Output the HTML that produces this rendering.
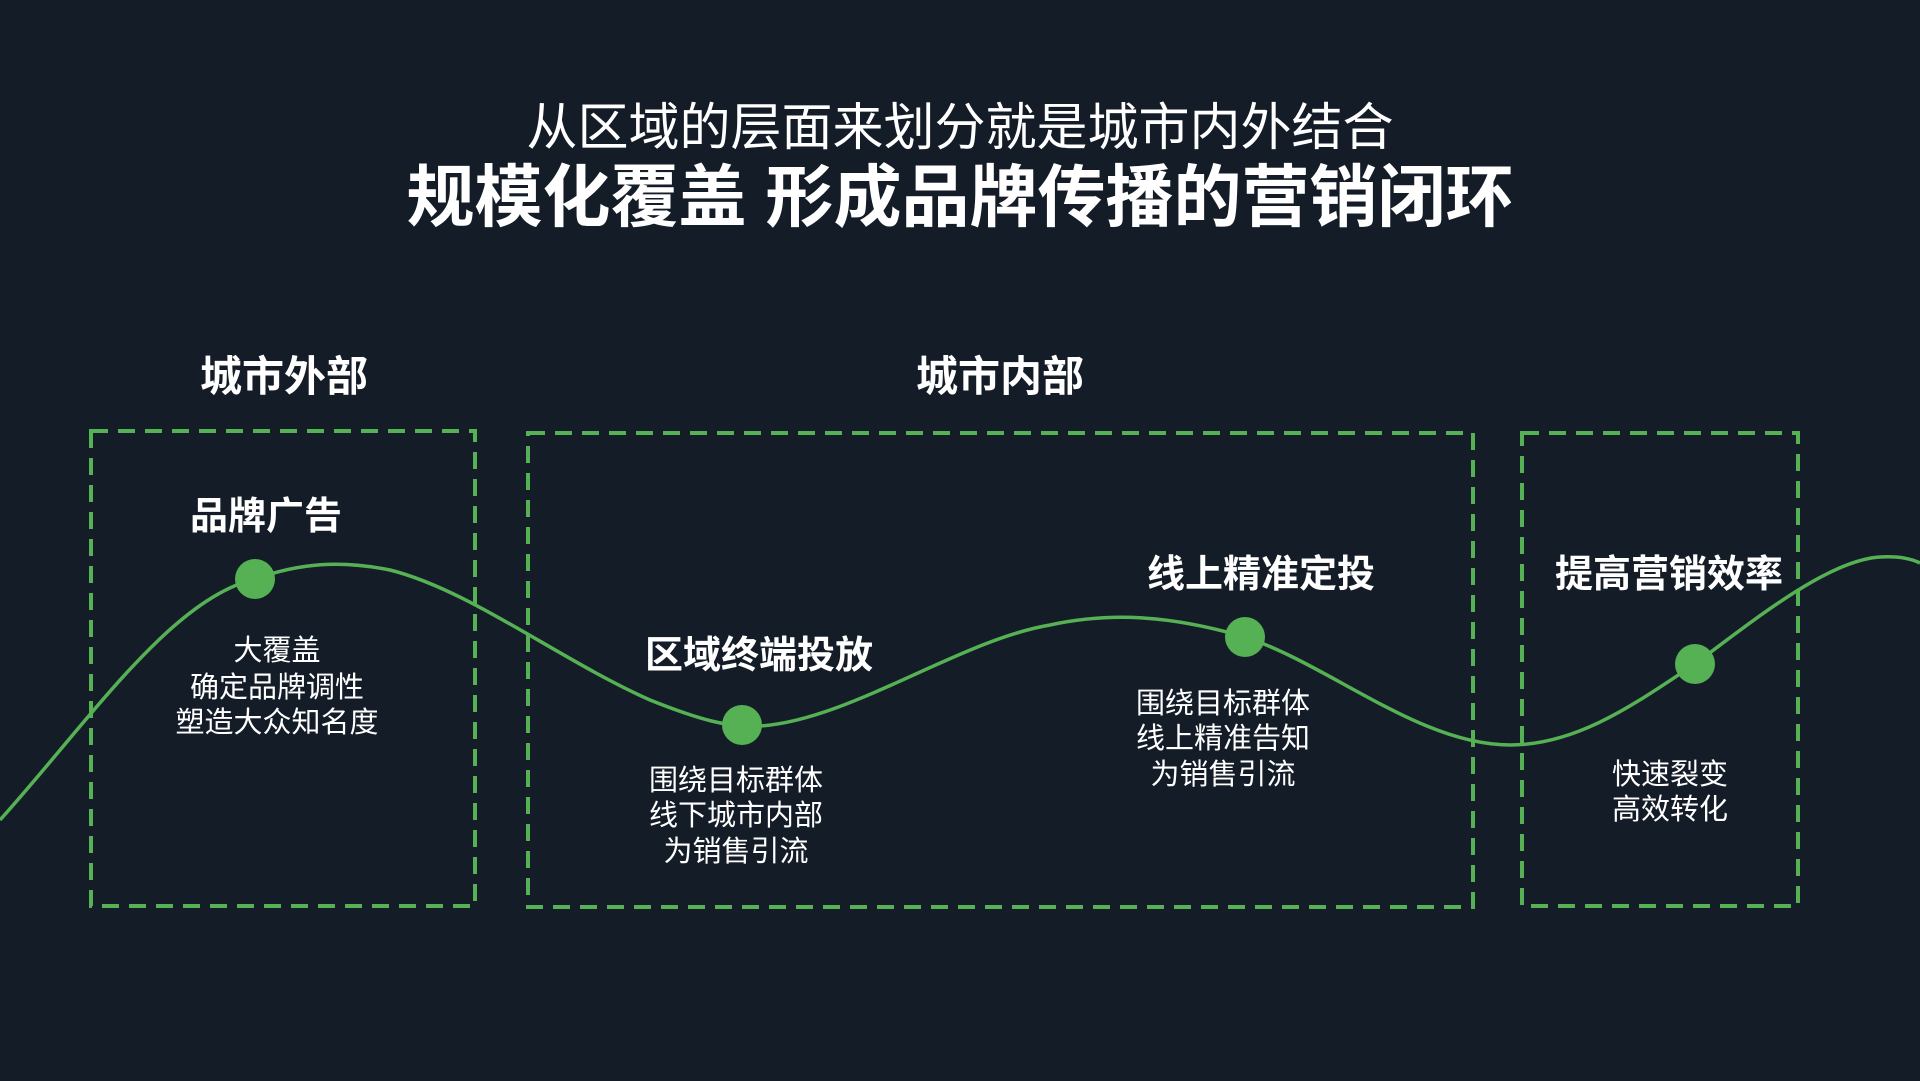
<!DOCTYPE html>
<html><head><meta charset="utf-8"><style>
html,body{margin:0;padding:0;background:#141c28;}
svg{display:block}
text{font-family:"Liberation Sans","Noto Sans CJK SC",sans-serif;fill:#fff;text-anchor:middle}
.b{font-weight:bold}
</style></head><body>
<svg width="1920" height="1081" viewBox="0 0 1920 1081" xmlns="http://www.w3.org/2000/svg">
<rect width="1920" height="1081" fill="#141c28"/>
<text x="960" y="145" font-size="51">从区域的层面来划分就是城市内外结合</text>
<text x="960" y="221" font-size="68" class="b">规模化覆盖 形成品牌传播的营销闭环</text>
<text x="284" y="391" font-size="42" class="b">城市外部</text>
<text x="1000" y="391" font-size="42" class="b">城市内部</text>
<g fill="none" stroke="#55b154" stroke-width="4" stroke-dasharray="17,10">
<rect x="91" y="431" width="384" height="475"/>
<rect x="528" y="433" width="945" height="474"/>
<rect x="1522" y="433" width="276" height="473"/>
</g>
<path d="M0,820 C90,720 170,600 255,579 C300,563 340,560 390,570 C470,590 560,660 650,700 C700,720 730,728 760,726 C850,720 960,640 1050,625 C1110,612 1170,615 1245,637 C1330,665 1420,745 1510,745 C1580,745 1640,700 1695,664 C1760,615 1830,560 1880,557 C1900,556 1912,559 1920,563" fill="none" stroke="#55b154" stroke-width="3.5"/>
<g fill="#55b154">
<circle cx="255" cy="579" r="20"/>
<circle cx="742" cy="725" r="20"/>
<circle cx="1245" cy="637" r="20"/>
<circle cx="1695" cy="664" r="20"/>
</g>
<text x="266" y="529" font-size="38" class="b">品牌广告</text>
<g font-size="29">
<text x="277" y="660">大覆盖</text>
<text x="277" y="697">确定品牌调性</text>
<text x="277" y="732">塑造大众知名度</text>
</g>
<text x="759" y="668" font-size="38" class="b">区域终端投放</text>
<g font-size="29">
<text x="736" y="790">围绕目标群体</text>
<text x="736" y="825">线下城市内部</text>
<text x="736" y="861">为销售引流</text>
</g>
<text x="1261" y="587" font-size="38" class="b">线上精准定投</text>
<g font-size="29">
<text x="1223" y="713">围绕目标群体</text>
<text x="1223" y="748">线上精准告知</text>
<text x="1223" y="784">为销售引流</text>
</g>
<text x="1669" y="587" font-size="38" class="b">提高营销效率</text>
<g font-size="29">
<text x="1670" y="784">快速裂变</text>
<text x="1670" y="819">高效转化</text>
</g>
</svg>
</body></html>
